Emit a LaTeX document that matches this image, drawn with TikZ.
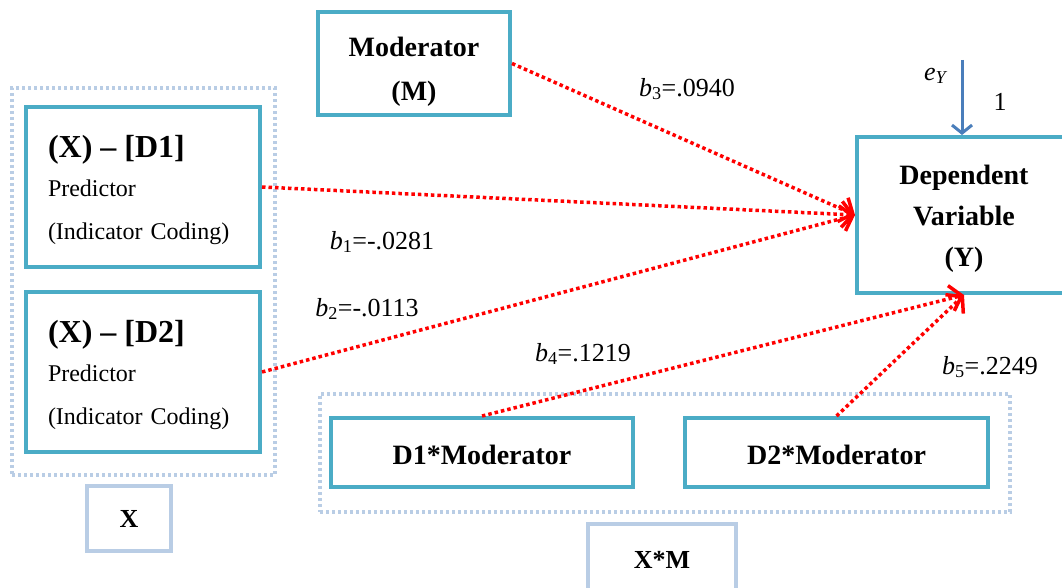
\documentclass[tikz,border=0pt]{standalone}
\usepackage{fontspec}
\setmainfont{Liberation Serif}
\usepackage{xcolor}
\usetikzlibrary{arrows.meta,positioning,calc}
\definecolor{boxteal}{RGB}{75,172,198}
\definecolor{grouplight}{RGB}{185,205,229}
\definecolor{errorblue}{RGB}{74,126,187}
\newcommand{\lowerstrut}[1]{\rule{0pt}{#1}}
\newcommand{\coefsym}[2]{\textit{#1}\textsubscript{#2}}

\begin{document}
\begin{tikzpicture}[x=1pt,y=-1pt,
    varbox/.style={draw=boxteal, line width=4pt, fill=white, inner sep=0pt,
        font=\fontsize{28}{41}\selectfont\bfseries},
    predbox/.style={varbox, minimum width=234pt, minimum height=160pt,
        text width=190pt, align=left, font=\fontsize{24}{43}\selectfont},
    groupbox/.style={draw=grouplight, line width=3.5pt, dash pattern=on 3pt off 3pt, inner sep=0pt},
    tagbox/.style={draw=grouplight, line width=3.5pt, fill=white, inner sep=0pt,
        font=\fontsize{26}{30}\selectfont\bfseries},
    effect/.style={draw=red, line width=3.5pt, dash pattern=on 3.5pt off 3pt,
        -{Straight Barb[length=11pt,width=26pt]}},
    coef/.style={font=\fontsize{26}{30}\selectfont}]
    \useasboundingbox (0,0) rectangle (1062,588);
    \clip (0,0) rectangle (1062,588);

    % Predictor X (two dummies)
    \node[groupbox, minimum width=263pt, minimum height=387pt] (xgrp) at (143.5,281.5) {};
    \node[predbox] (d1) at (143,187)
        {{\fontsize{32}{34}\selectfont\bfseries\lowerstrut{29pt}(X) -- [D1]}\\[-4pt]Predictor\\(Indicator Coding)};
    \node[predbox] (d2) at (143,372)
        {{\fontsize{32}{34}\selectfont\bfseries\lowerstrut{29pt}(X) -- [D2]}\\[-4pt]Predictor\\(Indicator Coding)};
    \node[tagbox, minimum width=84pt, minimum height=65pt] (xtag) at (129,518.5) {X};

    % Moderator and outcome
    \node[varbox, minimum width=192pt, minimum height=103pt, align=center,
        font=\fontsize{28}{44}\selectfont\bfseries] (mod) at (414,63.5)
        {\lowerstrut{35pt}Moderator\\(M)};
    \node[varbox, minimum width=214pt, minimum height=156pt, align=center] (dv) at (964,215)
        {\lowerstrut{27pt}Dependent\\Variable\\(Y)};

    % Interaction terms X*M
    \node[groupbox, minimum width=690pt, minimum height=118pt] (xmgrp) at (665,453) {};
    \node[varbox, minimum width=302pt, minimum height=69pt] (d1m) at (482,452.5) {\lowerstrut{25pt}D1*Moderator};
    \node[varbox, minimum width=303pt, minimum height=69pt] (d2m) at (836.5,452.5) {\lowerstrut{25pt}D2*Moderator};
    \node[tagbox, minimum width=148pt, minimum height=84pt] (xmtag) at (662,566) {};
    \node[font=\fontsize{26}{30}\selectfont\bfseries] (xmtext) at (662,560) {X*M};

    % Error term
    \coordinate (ey) at (962,60);
    \draw[errorblue, line width=3pt, -{Straight Barb[length=8pt,width=20pt]}] (ey) -- (ey |- dv.north);
    \node[coef] (eylab) at (936,76) {\coefsym{e}{\textit{Y}}};
    \node[coef] (eyone) at (1000,102) {1};

    % Paths
    \draw[effect] (mod.east) -- (dv.west);
    \draw[effect] (d1.east) -- (dv.west);
    \draw[effect] (d2.east) -- (dv.west);
    \draw[effect] (d1m.north) -- (dv.south);
    \draw[effect] (d2m.north) -- (dv.south);

    % Coefficients
    \node[coef] (b3) at (687,89) {\coefsym{b}{3}=.0940};
    \node[coef] (b1) at (382,242) {\coefsym{b}{1}=-.0281};
    \node[coef] (b2) at (367,309) {\coefsym{b}{2}=-.0113};
    \node[coef] (b4) at (583,354) {\coefsym{b}{4}=.1219};
    \node[coef] (b5) at (990,367) {\coefsym{b}{5}=.2249};
\end{tikzpicture}
\end{document}
